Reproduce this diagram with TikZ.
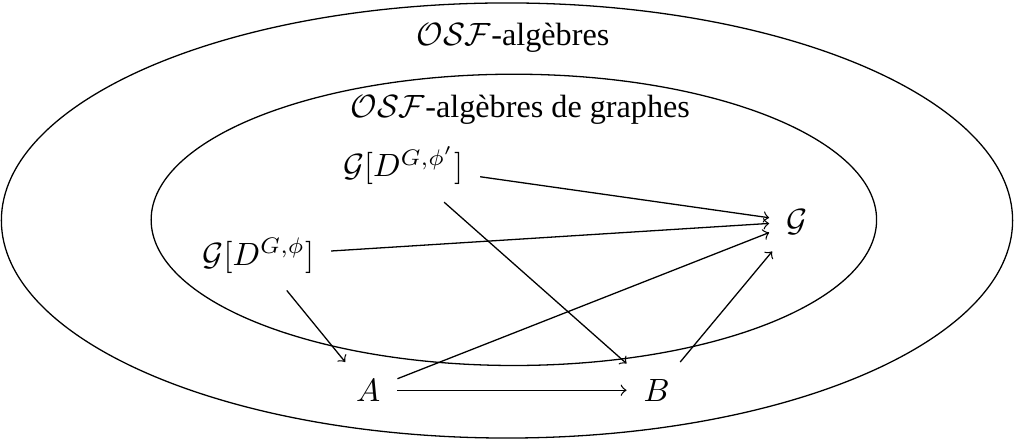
\documentclass[tikz,border=0pt]{standalone}
\usepackage{fontspec}
\setmainfont{Liberation Serif}

\begin{document}
\begin{tikzpicture}[every node/.style={outer sep=2pt}, fleche/.style={->}]

\useasboundingbox (0,0) rectangle (11.07,-4.81);

\draw (5.535,-2.407) ellipse (5.52cm and 2.375cm);
\draw (5.61,-2.40) ellipse (3.96cm and 1.59cm);

\node (osf) at (5.60,-0.415) {$\mathcal{OSF}$-algèbres};
\node (osfg) at (5.68,-1.20) {$\mathcal{OSF}$-algèbres de graphes};

\node (gphip) at (4.40,-1.81) {$\mathcal{G}[D^{G,\phi'}]$};
\node (gphi) at (2.82,-2.79) {$\mathcal{G}[D^{G,\phi}]$};
\node (g) at (8.70,-2.42) {$\mathcal{G}$};
\node (a) at (4.02,-4.26) {$A$};
\node (b) at (7.17,-4.26) {$B$};

\draw[fleche] (gphip) -- (g);
\draw[fleche] (gphi) -- (g);
\draw[fleche] (gphip) -- (b);
\draw[fleche] (gphi) -- (a);
\draw[fleche] (a) -- (b);
\draw[fleche] (a) -- (g);
\draw[fleche] (b) -- (g);
\end{tikzpicture}
\end{document}
